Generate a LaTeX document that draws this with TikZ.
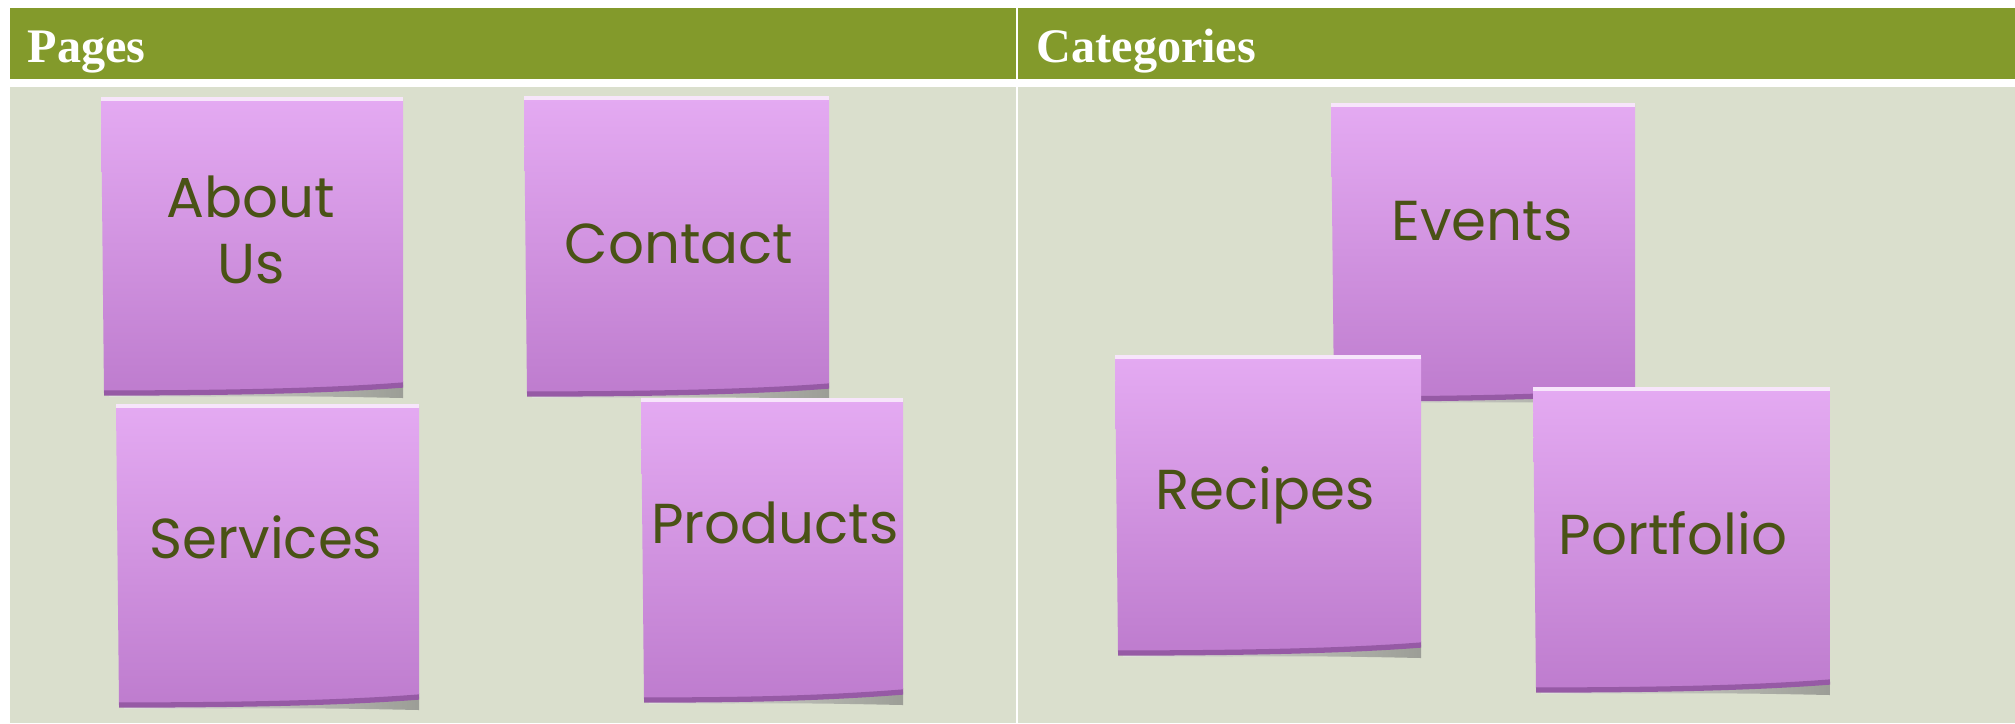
\documentclass[tikz,border=0pt]{standalone}
\usepackage{fontspec}
\newfontfamily\headfont{Liberation Serif}
\newfontfamily\handfont{Poppins}
\definecolor{headgreen}{RGB}{131,154,43}
\definecolor{bodygray}{RGB}{218,223,205}
\definecolor{notetop}{RGB}{228,170,242}
\definecolor{notebottom}{RGB}{190,124,206}
\definecolor{notelipcol}{RGB}{150,90,165}
\definecolor{inkgreen}{RGB}{74,82,22}

% one sticky note: name, left, top, right, bottom
\newcommand\postit[5]{%
  \coordinate (#1-nw) at (#2,#3);
  \coordinate (#1-se) at (#4,#5);
  \shade[noteshadow] (#2+8,#5-4) -- (#4,#5-14) -- (#4,#5+3)
        .. controls (#4-100,#5+1) .. (#2+8,#5+2) -- cycle;
  \shade[notepaper] (#2,#3) -- (#4,#3) -- (#4,#5-10)
        .. controls (#4-90,#5-3) and (#2+90,#5-2) .. (#2+3,#5-2) -- cycle;
  \draw[notelip] (#4,#5-10) .. controls (#4-90,#5-3) and (#2+90,#5-2) .. (#2+3,#5-2);
  \draw[white!70!notetop, line width=1.2pt] (#2,#3) -- (#4,#3);
}

\begin{document}
\begin{tikzpicture}[x=0.01cm, y=-0.01cm,
    head/.style={anchor=base west, text=white, font=\headfont\bfseries\fontsize{13.7}{16}\selectfont, inner sep=0pt},
    hand/.style={text=inkgreen, font=\handfont\fontsize{16}{18.8}\selectfont, align=center, inner sep=0pt},
    notepaper/.style={top color=notetop, bottom color=notebottom},
    noteshadow/.style={left color=black!10, right color=black!55, opacity=0.6},
    notelip/.style={notelipcol, line width=1.5pt}
]
\useasboundingbox (0,0) rectangle (2015,723);
\fill[white] (0,0) rectangle (2015,723);

% header and body
\fill[headgreen] (10,8) rectangle (2015,79);
\fill[bodygray] (10,87) rectangle (2015,723);
\draw[white, line width=0.8pt] (1017,8) -- (1017,723);
\node[head] (pages) at (27,62) {Pages};
\node[head] (categories) at (1036,62) {Categories};

% pages
\postit{about}{101}{99}{403}{395}
\postit{contact}{524}{98}{829}{396}
\postit{services}{116}{406}{419}{707}
\postit{products}{641}{400}{903}{702}
\node[hand] (abouttext) at (251,230) {About\\Us};
\node[hand] (contacttext) at (679,244) {Contact};
\node[hand] (servicestext) at (266,537) {Services};
\node[hand] (productstext) at (775,523) {Products};

% categories
\postit{events}{1331}{105}{1635}{401}
\postit{recipes}{1115}{357}{1421}{655}
\postit{portfolio}{1533}{389}{1830}{692}
\node[hand] (eventstext) at (1482,221) {Events};
\node[hand] (recipestext) at (1265,495) {Recipes};
\node[hand] (portfoliotext) at (1673,533) {Portfolio};
\end{tikzpicture}
\end{document}
